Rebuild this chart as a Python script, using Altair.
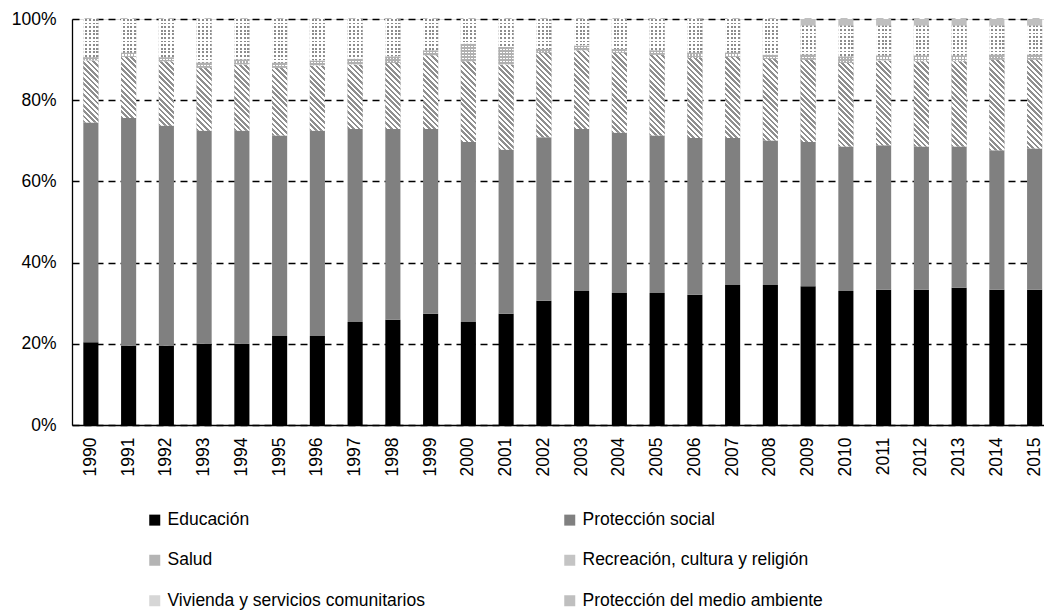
import math
import altair as alt

# Composición del gasto social por función, 1990-2015 (porcentaje del total)
years = [str(y) for y in range(1990, 2016)]

educacion = [20.4, 19.5, 19.5, 20.0, 20.0, 21.9, 21.9, 25.4, 25.9, 27.4, 25.4, 27.4, 30.6,
             33.0, 32.5, 32.5, 32.1, 34.5, 34.5, 34.2, 33.0, 33.3, 33.3, 33.8, 33.3, 33.3]
proteccion_social = [54.1, 56.1, 54.2, 52.5, 52.5, 49.4, 50.6, 47.5, 47.0, 45.5, 44.3, 40.4, 40.3,
                     39.9, 39.5, 38.8, 38.6, 36.2, 35.6, 35.5, 35.6, 35.6, 35.3, 34.8, 34.4, 34.8]
salud = [15.3, 15.1, 15.9, 15.5, 16.3, 16.7, 16.0, 15.9, 16.3, 18.2, 19.9, 21.0, 20.8,
         19.4, 19.7, 19.9, 19.7, 20.0, 20.1, 20.3, 20.6, 20.9, 21.0, 21.0, 22.3, 21.9]
recreacion = [0.8, 1.0, 1.0, 1.2, 1.2, 1.2, 1.3, 1.4, 1.6, 1.2, 4.3, 4.3, 0.9,
              1.2, 0.9, 1.1, 1.3, 1.0, 1.0, 1.2, 1.6, 1.2, 1.4, 1.4, 1.2, 1.2]
vivienda = [9.4, 8.3, 9.4, 10.8, 10.0, 10.8, 10.2, 9.8, 9.2, 7.7, 6.1, 6.9, 7.4,
            6.5, 7.4, 7.7, 8.3, 8.3, 8.8, 7.2, 7.6, 7.4, 7.4, 7.4, 7.2, 7.2]
medio_ambiente = [0.0] * 19 + [1.6] * 7

series_names = ["Educación", "Protección social", "Salud",
                "Recreación, cultura y religión", "Vivienda y servicios comunitarios",
                "Protección del medio ambiente"]
series_values = [educacion, proteccion_social, salud, recreacion, vivienda, medio_ambiente]
legend_colors = ["#000000", "#808080", "#b4b4b4", "#c4c4c4", "#d6d6d6", "#bfbfbf"]

# Plot geometry (pixels) used to size the fill textures
PLOT_W = 981.5
PLOT_H = 406
STEP = PLOT_W / len(years)
BAR_W = STEP * 0.4
PX_PER_PCT = PLOT_H / 100.0
CLEAR = "rgba(255,255,255,0)"


def bands(length, period, frac, ink, paper):
    """Hard-edged gradient stops repeating ink/paper every `period` px."""
    out = []
    k = 0
    while k * period < length:
        a = k * period / length
        b = min((k + frac) * period / length, 1.0)
        c = min((k + 1) * period / length, 1.0)
        out += [{"offset": a, "color": ink}, {"offset": b, "color": ink},
                {"offset": b, "color": paper}, {"offset": c, "color": paper}]
        k += 1
    return out


def diagonal(w, h, period, frac, ink, paper):
    # 45-degree "\" hatching in screen space for a w x h box
    length = (w + h) / math.sqrt(2)
    a = (w + h) / (w * w + h * h)
    return {"gradient": "linear", "x1": 0, "y1": 1, "x2": a * w, "y2": 1 - a * h,
            "stops": bands(length, period, frac, ink, paper)}


def rows(h, period, frac, ink, paper):
    return {"gradient": "linear", "x1": 0, "y1": 0, "x2": 0, "y2": 1,
            "stops": bands(h, period, frac, ink, paper)}


def cols(w, period, frac, ink, paper):
    return {"gradient": "linear", "x1": 0, "y1": 0, "x2": 1, "y2": 0,
            "stops": bands(w, period, frac, ink, paper)}


records = []
for i, year in enumerate(years):
    base = 0.0
    for name, values in zip(series_names, series_values):
        v = values[i]
        if v <= 0:
            continue
        h = v * PX_PER_PCT
        paint = None
        veil = None
        if name == "Salud":
            paint = diagonal(BAR_W, h, 3.8, 0.5, "#8f8f8f", "#ffffff")
        elif name == "Recreación, cultura y religión":
            paint = rows(h, 3.0, 0.6, "#b0b0b0", "#ffffff")
            veil = cols(BAR_W, 3.0, 0.4, "#b0b0b0", CLEAR)
        elif name == "Vivienda y servicios comunitarios":
            paint = rows(h, 3.6, 0.5, "#8c8c8c", "#ffffff")
            veil = cols(BAR_W, 3.75, 0.5, "#ffffff", CLEAR)
        records.append({"year": year, "serie": name, "y0": base, "y1": base + v,
                        "paint": paint, "veil": veil,
                        "textured": paint is not None, "veiled": veil is not None})
        base += v

data = alt.Data(values=records)

x_enc = alt.X("year:O", title=None, sort=years,
              scale=alt.Scale(paddingInner=0.6, paddingOuter=0.3),
              axis=alt.Axis(labelAngle=270, labelPadding=12, ticks=False,
                            domainColor="#000000", domainWidth=1.3,
                            labelFontSize=17.5, labelColor="#000000"))
y_enc = alt.Y("y0:Q", title=None,
              scale=alt.Scale(domain=[0, 100], nice=False, zero=True),
              axis=alt.Axis(values=[0, 20, 40, 60, 80, 100], labelExpr="datum.value + '%'",
                            grid=True, gridDash=[7, 5], gridColor="#000000", gridWidth=1.3,
                            ticks=False, labelPadding=16, domainColor="#000000",
                            domainWidth=1.3, labelFontSize=17.5, labelColor="#000000"))

solid = alt.Chart(data).mark_bar().encode(
    x=x_enc,
    y=y_enc,
    y2="y1:Q",
    color=alt.Color("serie:N",
                    scale=alt.Scale(domain=series_names, range=legend_colors),
                    legend=alt.Legend(title=None, orient="none", legendX=74, legendY=492,
                                      direction="horizontal", columns=2,
                                      columnPadding=136, rowPadding=21.5,
                                      symbolType="square", symbolSize=121,
                                      symbolStrokeWidth=0, labelFontSize=17.5,
                                      labelLimit=400, labelOffset=4,
                                      labelColor="#000000")),
)

textured = alt.Chart(data).mark_bar().encode(
    x=alt.X("year:O", sort=years),
    y="y0:Q",
    y2="y1:Q",
    fill=alt.Fill("paint:N", scale=None),
).transform_filter("datum.textured")

veiled = alt.Chart(data).mark_bar().encode(
    x=alt.X("year:O", sort=years),
    y="y0:Q",
    y2="y1:Q",
    fill=alt.Fill("veil:N", scale=None),
).transform_filter("datum.veiled")

chart = alt.layer(solid, textured, veiled).properties(
    width=PLOT_W,
    height=PLOT_H,
    autosize=alt.AutoSizeParams(type="none"),
    padding={"left": 72, "top": 19, "right": 1044 - 72 - PLOT_W, "bottom": 616 - 19 - PLOT_H},
).configure_view(stroke=None).configure(font="Liberation Sans")

chart.save("out.html", embed_options={"renderer": "svg", "actions": False})
